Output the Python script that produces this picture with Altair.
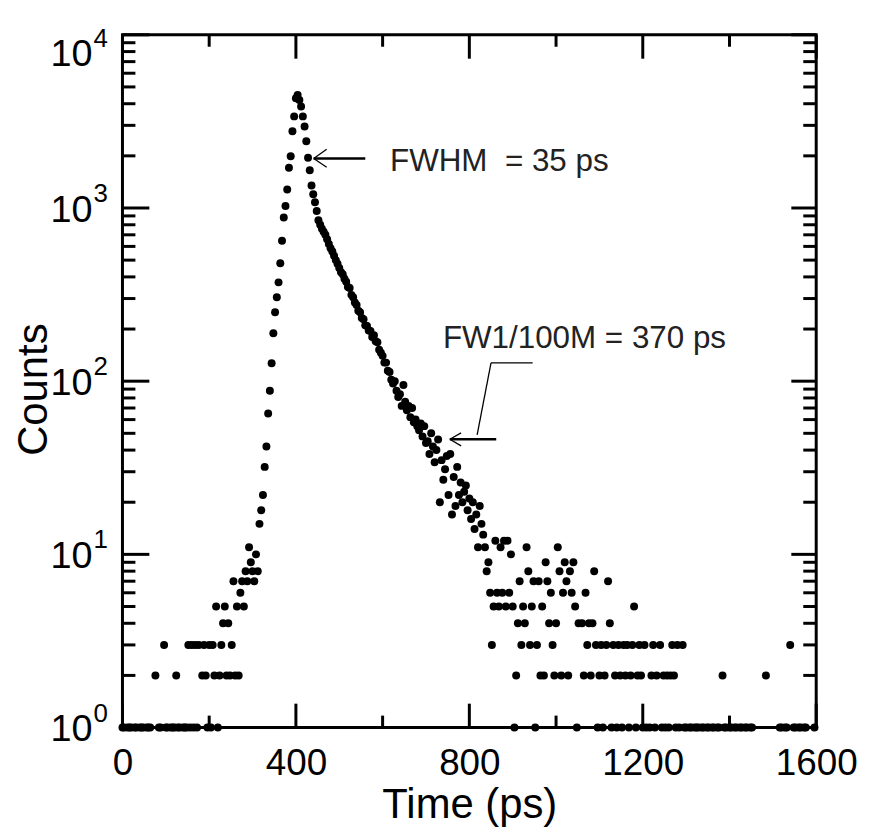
import altair as alt
import pandas as pd

FONT = "Liberation Sans"
W, H = 697, 696

# ---- histogram counts, 4 ps bins starting at 0 ps (one list per 100 ps) ----
bin_width_ps = 4
counts_000 = [1, 1, 0, 1, 1, 1, 0, 1, 1, 0, 1, 1, 1, 0, 1, 1, 1, 0, 0, 2, 0, 1, 1, 0, 3]
counts_100 = [1, 1, 0, 1, 1, 1, 2, 1, 1, 0, 1, 1, 1, 3, 1, 3, 1, 3, 1, 3, 0, 2, 3, 2, 1]
counts_200 = [3, 1, 3, 2, 5, 1, 2, 3, 4, 5, 2, 4, 2, 3, 7, 2, 5, 2, 6, 7, 5, 8, 7, 11, 9]
counts_300 = [8, 7, 10, 8, 15, 18, 22, 32, 42, 65, 88, 127, 189, 250, 305, 372, 479, 646,
              880, 1026, 1280, 1705, 1990, 2773, 3380]
counts_400 = [4305, 4500, 4200, 3855, 3380, 2958, 2427, 1950, 1650, 1350, 1200, 1080, 960,
              850, 800, 760, 730, 700, 660, 620, 585, 560, 530, 500, 476]
counts_500 = [450, 425, 415, 390, 375, 350, 345, 315, 305, 285, 275, 255, 250, 232, 228, 210,
              208, 196, 195, 180, 184, 170, 168, 152, 146]
counts_600 = [140, 128, 128, 115, 113, 102, 97, 100, 88, 81, 84, 72, 95, 76, 68, 72, 62, 70,
              58, 60, 55, 52, 57, 48, 55]
counts_700 = [44, 45, 38, 50, 42, 34, 40, 46, 20, 35, 27, 31, 37, 22, 38, 17, 28, 19, 32, 22,
              26, 20, 23, 25, 18]
counts_800 = [21, 16, 20, 14, 17, 11, 19, 15, 13, 11, 8, 9, 6, 3, 5, 12, 6, 5, 11, 6, 12, 5, 12, 6, 10]
counts_900 = [5, 1, 2, 4, 7, 3, 5, 4, 11, 8, 3, 5, 7, 1, 3, 7, 2, 5, 2, 9, 7, 4, 6, 3, 2]
counts_1000 = [4, 11, 8, 2, 6, 9, 7, 2, 8, 6, 9, 5, 1, 4, 0, 4, 2, 6, 3, 4, 2, 4, 8, 3, 1]
counts_1100 = [2, 3, 1, 2, 3, 7, 4, 1, 3, 2, 1, 3, 2, 1, 3, 2, 3, 1, 2, 3, 5, 1, 2, 3, 2]
counts_1200 = [1, 3, 1, 0, 1, 2, 3, 1, 2, 0, 3, 1, 2, 1, 2, 1, 2, 3, 2, 1, 3, 1, 0, 3, 1]
counts_1300 = [1, 0, 1, 1, 0, 1, 1, 1, 0, 1, 1, 0, 1, 1, 0, 1, 1, 0, 1, 1, 0, 2, 1, 1, 0]
counts_1400 = [1, 1, 0, 1, 1, 0, 1, 1, 0, 1, 1, 0, 1, 1, 0, 0, 0, 0, 0, 0, 0, 2, 0, 0, 0]
counts_1500 = [0, 0, 0, 0, 1, 1, 0, 1, 1, 0, 3, 0, 1, 1, 0, 1, 1, 0, 1, 1, 0, 0, 0, 0, 1]

counts = (counts_000 + counts_100 + counts_200 + counts_300 + counts_400 + counts_500 +
          counts_600 + counts_700 + counts_800 + counts_900 + counts_1000 + counts_1100 +
          counts_1200 + counts_1300 + counts_1400 + counts_1500)
time_ps = [i * bin_width_ps for i in range(len(counts))]

# ---- axes ----
x_major = [0, 400, 800, 1200, 1600]
x_minor = [200, 600, 1000, 1400]
y_decades = [1, 10, 100, 1000, 10000]
y_exponents = ["0", "1", "2", "3", "4"]
y_minor = [m * d for d in y_decades[:-1] for m in range(2, 10)]

# ---- annotations (data units) ----
ann_text = ["FWHM\u00a0\u00a0= 35 ps", "FW1/100M = 370 ps"]
ann_t = [617, 739]
ann_c = [1633, 155]
# arrow shafts
shaft_t = [441, 755]
shaft_t2 = [560, 862]
shaft_c = [1930, 46.2]
# thin strokes: arrow heads and leader line
thin_t = [441, 441, 755, 755, 818, 850]
thin_t2 = [471, 471, 781, 781, 850, 946]
thin_c = [1930, 1930, 46.2, 46.2, 48.9, 127.4]
thin_c2 = [2184, 1720, 50.3, 42.3, 127.4, 127.4]

xs = alt.Scale(domain=[0, 1600], nice=False, zero=False)
ys = alt.Scale(type="log", domain=[1, 10000], nice=False)

df = pd.DataFrame({"t": time_ps, "c": counts})
df = df[df["c"] > 0]

points = alt.Chart(df).mark_circle(size=64, color="black", opacity=1).encode(
    x=alt.X("t:Q", scale=xs, axis=alt.Axis(
        title="Time (ps)", values=x_major, format="d", ticks=False, domain=False, grid=False,
        labelFont=FONT, labelFontSize=37, labelColor="black", labelPadding=18, labelFlush=False,
        titleFont=FONT, titleFontSize=42, titleFontWeight="normal", titleColor="black",
        titleY=90, titleBaseline="alphabetic")),
    y=alt.Y("c:Q", scale=ys, axis=alt.Axis(
        title="Counts", values=y_decades, labels=False, ticks=False, domain=False, grid=False,
        titleFont=FONT, titleFontSize=42, titleFontWeight="normal", titleColor="black",
        titleAngle=270, titleX=-76, titleY=H / 2 + 8, titleBaseline="alphabetic", titleAlign="center")),
)

def xticks(vals, y0, y1):
    return alt.Chart(pd.DataFrame({"t": vals})).mark_rule(color="black", strokeWidth=3).encode(
        x=alt.X("t:Q", scale=xs), y=alt.value(y0), y2=alt.value(y1))

def yticks(vals, x0, x1):
    return alt.Chart(pd.DataFrame({"c": vals})).mark_rule(color="black", strokeWidth=3).encode(
        y=alt.Y("c:Q", scale=ys), x=alt.value(x0), x2=alt.value(x1))

ticks = [
    xticks(x_major, H, H - 24), xticks(x_minor, H, H - 12),
    xticks(x_major, 0, 24), xticks(x_minor, 0, 12),
    yticks(y_decades, 0, 27), yticks(y_minor, 0, 13),
    yticks(y_decades, W, W - 25), yticks(y_minor, W, W - 13),
]

low_df = pd.DataFrame({"c": y_decades[:-1], "e": y_exponents[:-1]})
top_df = pd.DataFrame({"c": y_decades[-1:], "e": y_exponents[-1:]})

def ylabels(frame, dy_ten, dy_exp):
    ten = alt.Chart(frame).mark_text(align="right", baseline="middle", font=FONT, fontSize=38,
                                     dy=dy_ten, color="black").encode(
        y=alt.Y("c:Q", scale=ys), x=alt.value(-30), text=alt.value("10"))
    expo = alt.Chart(frame).mark_text(align="left", baseline="middle", font=FONT, fontSize=26,
                                      dy=dy_exp, color="black").encode(
        y=alt.Y("c:Q", scale=ys), x=alt.value(-29), text="e:N")
    return [ten, expo]

labels = ylabels(low_df, 3, -14) + ylabels(top_df, 20, 4)

ann = alt.Chart(pd.DataFrame({"t": ann_t, "c": ann_c, "label": ann_text})).mark_text(
    align="left", baseline="alphabetic", font=FONT, fontSize=31.5, color="#222222").encode(
    x=alt.X("t:Q", scale=xs), y=alt.Y("c:Q", scale=ys), text="label:N")

shafts = alt.Chart(pd.DataFrame({"t": shaft_t, "t2": shaft_t2, "c": shaft_c})).mark_rule(
    color="black", strokeWidth=2.5).encode(
    x=alt.X("t:Q", scale=xs), x2="t2:Q", y=alt.Y("c:Q", scale=ys))

thin = alt.Chart(pd.DataFrame({"t": thin_t, "t2": thin_t2, "c": thin_c, "c2": thin_c2})).mark_rule(
    color="black", strokeWidth=1.3).encode(
    x=alt.X("t:Q", scale=xs), x2="t2:Q", y=alt.Y("c:Q", scale=ys), y2="c2:Q")

chart = alt.layer(points, *ticks, *labels, ann, shafts, thin).properties(
    width=W, height=H,
    autosize=alt.AutoSizeParams(type="none"),
    padding={"left": 115, "top": 25, "right": 45, "bottom": 100},
).configure_view(stroke="black", strokeWidth=3)

chart.save("out.html", embed_options={"renderer": "svg", "actions": False})
